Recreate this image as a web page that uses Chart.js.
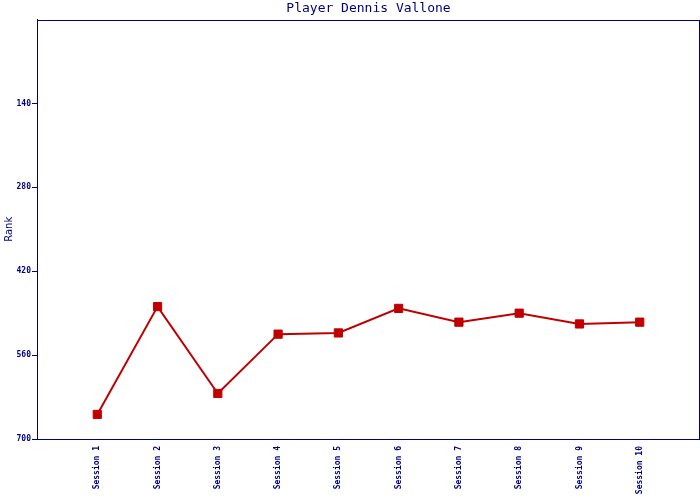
<!DOCTYPE html>
<html>
<head>
<meta charset="utf-8">
<script src="https://cdn.jsdelivr.net/npm/chart.js@4"></script>
<style>
html,body{margin:0;padding:0;background:#fff;}
#wrap{width:700px;height:500px;}
</style>
</head>
<body>
<div id="wrap"><canvas id="c" width="700" height="500"></canvas></div>
<script>
const titleText = "Player Dennis Vallone";
const yAxisTitle = "Rank";
const sessions = ["Session 1","Session 2","Session 3","Session 4","Session 5","Session 6","Session 7","Session 8","Session 9","Session 10"];
const ranks = [659, 479, 624, 525, 523, 482, 505, 490, 508, 505];
const yTicks = [140, 280, 420, 560, 700];

const NAVY = "#000080";
const RED = "#C00000";

const boxPlugin = {
  id: "box",
  afterDraw(chart) {
    const a = chart.chartArea, ctx = chart.ctx;
    ctx.save();
    ctx.strokeStyle = NAVY;
    ctx.lineWidth = 1;
    ctx.strokeRect(Math.round(a.left) + 0.5, Math.round(a.top) + 0.5, Math.round(a.right - a.left) - 1, Math.round(a.bottom - a.top));
    ctx.restore();
  }
};

new Chart(document.getElementById("c"), {
  type: "line",
  data: {
    datasets: [{
      data: sessions.map((s, i) => ({ x: i + 1, y: ranks[i] })),
      borderColor: RED,
      backgroundColor: RED,
      borderWidth: 2,
      pointStyle: "rect",
      pointRadius: 5.8,
      pointBorderWidth: 1,
      pointBorderColor: RED,
      pointBackgroundColor: RED,
      tension: 0
    }]
  },
  options: {
    responsive: false,
    animation: false,
    layout: { autoPadding: false, padding: { top: 0, right: 0, bottom: 0, left: 0 } },
    plugins: {
      legend: { display: false },
      tooltip: { enabled: false },
      title: {
        display: true,
        text: titleText,
        fullSize: false,
        color: NAVY,
        font: { family: "DejaVu Sans Mono", size: 13, weight: "normal", lineHeight: 1.2 },
        padding: { top: 1, bottom: 3 }
      }
    },
    scales: {
      x: {
        type: "linear",
        min: 0,
        max: 11,
        afterBuildTicks(scale) {
          scale.ticks = sessions.map((s, i) => ({ value: i + 1 }));
        },
        afterFit(scale) { scale.height = 61; scale.paddingLeft = 0; scale.paddingRight = 0; },
        grid: { display: false, drawTicks: false },
        border: { display: true, color: NAVY, width: 1 },
        ticks: {
          autoSkip: false,
          minRotation: 90,
          maxRotation: 90,
          padding: 7,
          color: NAVY,
          font: { family: "DejaVu Sans Mono", size: 8, weight: "bold" },
          callback: (v) => sessions[v - 1] || ""
        }
      },
      y: {
        reverse: true,
        min: 0,
        max: 700,
        afterBuildTicks(scale) {
          scale.ticks = yTicks.map(v => ({ value: v }));
        },
        afterFit(scale) { scale.width = 37; scale.paddingTop = 0; scale.paddingBottom = 0; },
        grid: { display: true, drawOnChartArea: false, drawTicks: true, tickLength: 5, color: NAVY },
        border: { display: true, color: NAVY, width: 1 },
        title: {
          display: true,
          text: yAxisTitle,
          color: NAVY,
          font: { family: "DejaVu Sans", size: 10 },
          padding: { top: 3, bottom: 0 }
        },
        ticks: {
          padding: 1,
          color: NAVY,
          font: { family: "DejaVu Sans Mono", size: 8, weight: "bold" }
        }
      }
    }
  },
  plugins: [boxPlugin]
});
</script>
</body>
</html>
